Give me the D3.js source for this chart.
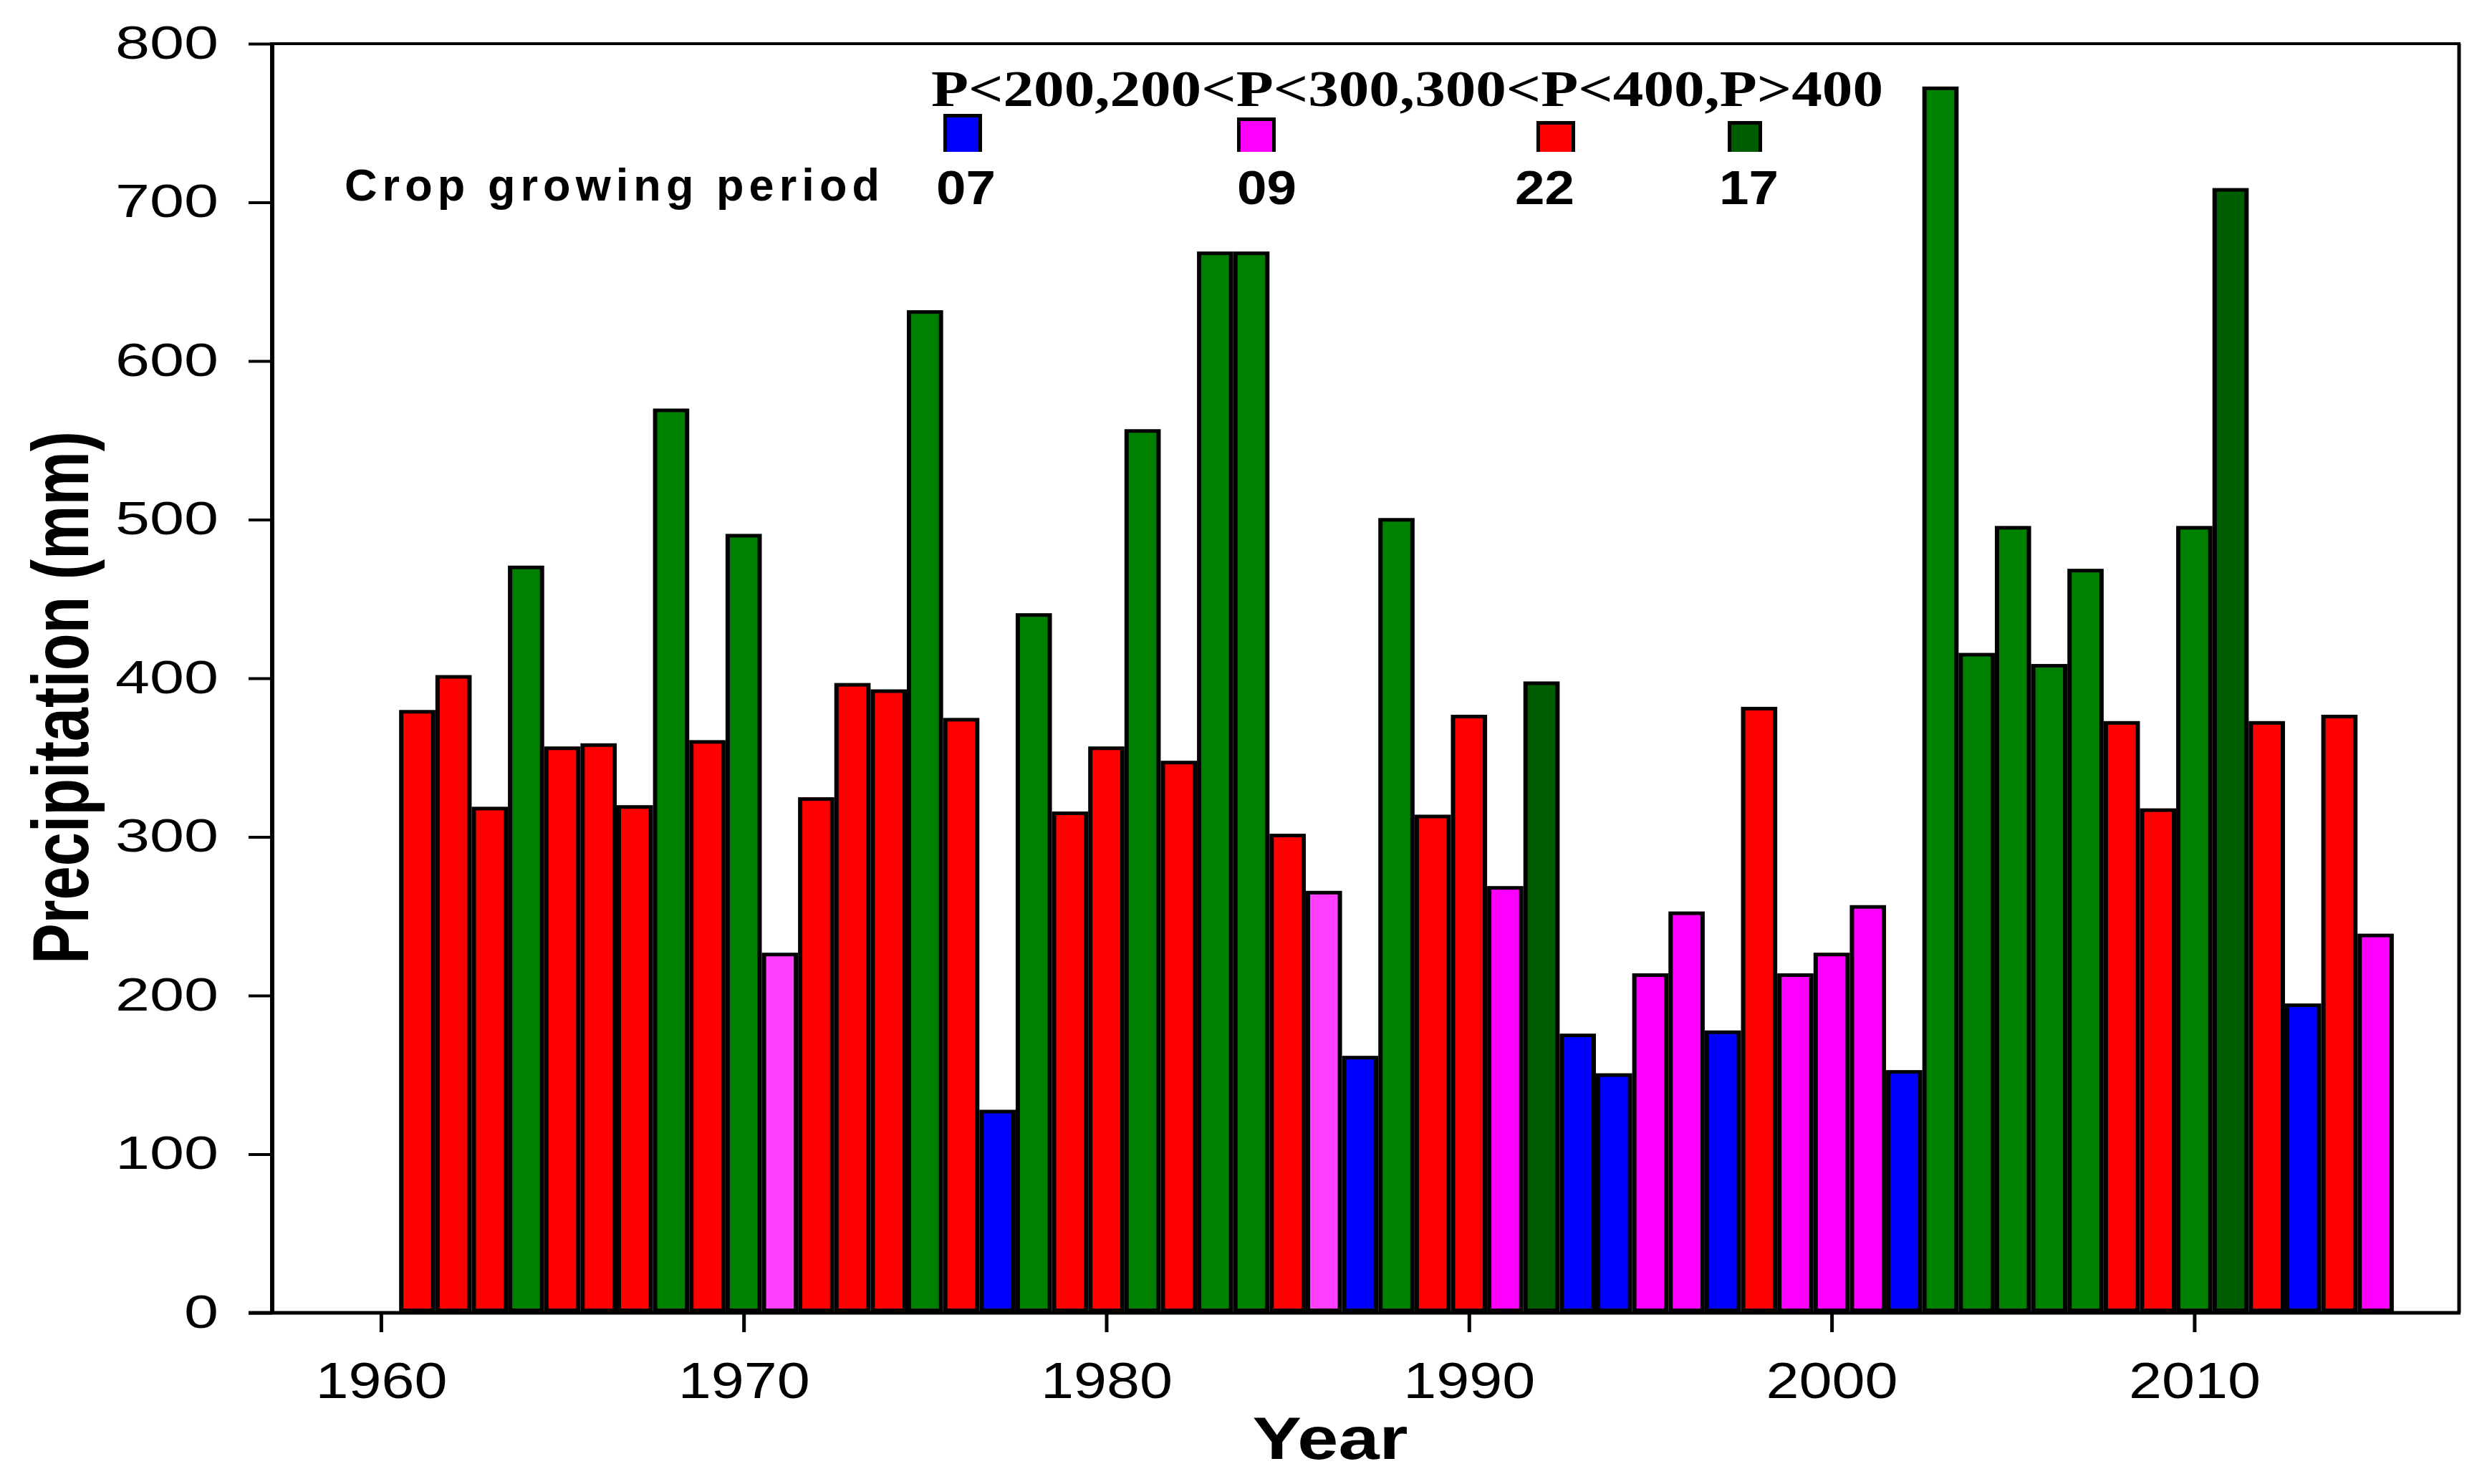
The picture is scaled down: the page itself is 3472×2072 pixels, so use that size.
<!DOCTYPE html>
<html><head><meta charset="utf-8">
<script src="https://cdn.jsdelivr.net/npm/d3@7"></script>
<style>html,body{margin:0;padding:0;background:#fff;} svg{display:block}</style>
</head><body>
<svg id="chart" width="3472" height="2072"></svg>
<script>
// ---------- data ----------
const years = [1961,1962,1963,1964,1965,1966,1967,1968,1969,1970,
  1971,1972,1973,1974,1975,1976,1977,1978,1979,1980,
  1981,1982,1983,1984,1985,1986,1987,1988,1989,1990,
  1991,1992,1993,1994,1995,1996,1997,1998,1999,2000,
  2001,2002,2003,2004,2005,2006,2007,2008,2009,2010,
  2011,2012,2013,2014,2015];
const precipitation = [380,402,319,471,357,359,320,570,361,491,
  227,325,397,393,632,375,128,441,316,357,
  557,348,669,669,302,266,162,501,314,377,
  269,398,176,151,214,253,178,382,214,227,
  257,153,773,416,496,409,469,373,318,496,
  709,373,195,377,239];
// class: A = P<200, B = 200<P<300 (B2 lighter tone), C = 300<P<400, D = P>400 (D2 darker tone)
const periodClass = ['C','C','C','D','C','C','C','D','C','D',
  'B2','C','C','C','D','C','A','D','C','C',
  'D','C','D','D','C','B2','A','D','C','C',
  'B','D2','A','A','B','B','A','C','B','B',
  'B','A','D','D','D','D','D','C','C','D',
  'D2','C','A','C','B'];
const yTickValues = [0,100,200,300,400,500,600,700,800];
const xTickValues = [1960,1970,1980,1990,2000,2010];
const legendClasses = ['A','B','C','D2'];
const legendCounts = ['07','09','22','17'];
const legendTitle = 'P<200,200<P<300,300<P<400,P>400';
const cropLabel = 'Crop growing period';
const xTitle = 'Year';
const yTitle = 'Precipitation (mm)';

// ---------- layout ----------
const W = 3472, H = 2072;
const plot = {left: 380, right: 3433, top: 61, bottom: 1833};
const sans = "'Liberation Sans', Arial, Helvetica, sans-serif";
const serif = "'Liberation Serif', 'Times New Roman', serif";

const color = d3.scaleOrdinal()
  .domain(['A','B','B2','C','D','D2'])
  .range(['#0000ff','#ff00ff','#ff40ff','#ff0000','#008000','#005c00']);

const x = d3.scaleLinear().domain([1957, 2017.3]).range([plot.left, plot.right]);
const y = d3.scaleLinear().domain([0, 800]).range([plot.bottom, plot.top]);

const svg = d3.select('#chart');
svg.append('rect').attr('width', W).attr('height', H).attr('fill', '#fff');

// ---------- bars ----------
const step = x(1) - x(0);
const bars = years.map((yr, i) => ({yr, v: precipitation[i], c: periodClass[i]}));
const gBars = svg.append('g');
gBars.selectAll('rect.edge').data(bars).join('rect')
  .attr('class', 'edge')
  .attr('x', d => x(d.yr) - step / 2)
  .attr('y', d => y(d.v))
  .attr('width', step)
  .attr('height', d => y(0) - y(d.v))
  .attr('fill', '#000');
gBars.selectAll('rect.fill').data(bars).join('rect')
  .attr('class', 'fill')
  .attr('x', d => x(d.yr) - step / 2 + 6)
  .attr('y', d => y(d.v) + 5)
  .attr('width', step - 12)
  .attr('height', d => Math.max(0, y(0) - y(d.v) - 11))
  .attr('fill', d => color(d.c));

// ---------- axes ----------
const yAxis = d3.axisLeft(y).tickValues(yTickValues).tickSize(33).tickPadding(42);
const gy = svg.append('g').attr('transform', `translate(${plot.left},0)`).call(yAxis);
gy.select('.domain').remove();
gy.selectAll('.tick line').attr('stroke', '#000').attr('stroke-width', 4);
gy.selectAll('.tick text')
  .attr('font-family', sans).attr('font-size', 64).attr('fill', '#000')
  .attr('textLength', d => 48 * String(d).length)
  .attr('lengthAdjust', 'spacingAndGlyphs');

const xAxis = d3.axisBottom(x).tickValues(xTickValues).tickFormat(d3.format('d')).tickSize(27).tickPadding(42);
const gx = svg.append('g').attr('transform', `translate(0,${plot.bottom})`).call(xAxis);
gx.select('.domain').remove();
gx.selectAll('.tick line').attr('stroke', '#000').attr('stroke-width', 5);
gx.selectAll('.tick text')
  .attr('font-family', sans).attr('font-size', 70).attr('fill', '#000')
  .attr('textLength', 184)
  .attr('lengthAdjust', 'spacingAndGlyphs');

// frame lines
const frame = svg.append('g').attr('stroke', '#000').attr('fill', 'none');
frame.append('line').attr('x1', plot.left).attr('x2', plot.right + 2).attr('y1', plot.top).attr('y2', plot.top).attr('stroke-width', 4);
frame.append('line').attr('x1', plot.right).attr('x2', plot.right).attr('y1', plot.top).attr('y2', plot.bottom).attr('stroke-width', 5);
frame.append('line').attr('x1', plot.left).attr('x2', plot.left).attr('y1', plot.top - 2).attr('y2', plot.bottom + 2).attr('stroke-width', 6);
frame.append('line').attr('x1', plot.left - 33).attr('x2', plot.right + 2).attr('y1', plot.bottom).attr('y2', plot.bottom).attr('stroke-width', 5);

// ---------- axis titles ----------
svg.append('text')
  .attr('transform', 'translate(123,974) rotate(-90)')
  .attr('text-anchor', 'middle')
  .attr('font-family', sans).attr('font-weight', 'bold').attr('font-size', 112)
  .attr('textLength', 744).attr('lengthAdjust', 'spacingAndGlyphs')
  .text(yTitle);
svg.append('text')
  .attr('x', 1857).attr('y', 2037)
  .attr('text-anchor', 'middle')
  .attr('font-family', sans).attr('font-weight', 'bold').attr('font-size', 84)
  .attr('textLength', 217).attr('lengthAdjust', 'spacingAndGlyphs')
  .text(xTitle);

// ---------- legend ----------
const lg = svg.append('g');
lg.append('text')
  .attr('x', 1300).attr('y', 148)
  .attr('font-family', serif).attr('font-weight', 'bold').attr('font-size', 72)
  .attr('textLength', 1329).attr('lengthAdjust', 'spacingAndGlyphs')
  .text(legendTitle);
lg.append('text')
  .attr('x', 481).attr('y', 280)
  .attr('font-family', sans).attr('font-weight', 'bold').attr('font-size', 63)
  .attr('textLength', 747).attr('lengthAdjust', 'spacing')
  .text(cropLabel);

const swatchX = [1317, 1727, 2145, 2412];
const swatchTop = [159, 164, 169, 169];
const swatchW = [54, 54, 54, 48];
legendClasses.forEach((c, i) => {
  lg.append('rect').attr('x', swatchX[i]).attr('y', swatchTop[i])
    .attr('width', swatchW[i]).attr('height', 212 - swatchTop[i]).attr('fill', '#000');
  lg.append('rect').attr('x', swatchX[i] + 5).attr('y', swatchTop[i] + 5)
    .attr('width', swatchW[i] - 10).attr('height', 212 - swatchTop[i] - 5).attr('fill', color(c));
});
const countX = [1307, 1727, 2115, 2400];
legendCounts.forEach((t, i) => {
  lg.append('text').attr('x', countX[i]).attr('y', 285)
    .attr('font-family', sans).attr('font-weight', 'bold').attr('font-size', 67)
    .attr('textLength', 83).attr('lengthAdjust', 'spacingAndGlyphs')
    .text(t);
});
</script>
</body></html>
